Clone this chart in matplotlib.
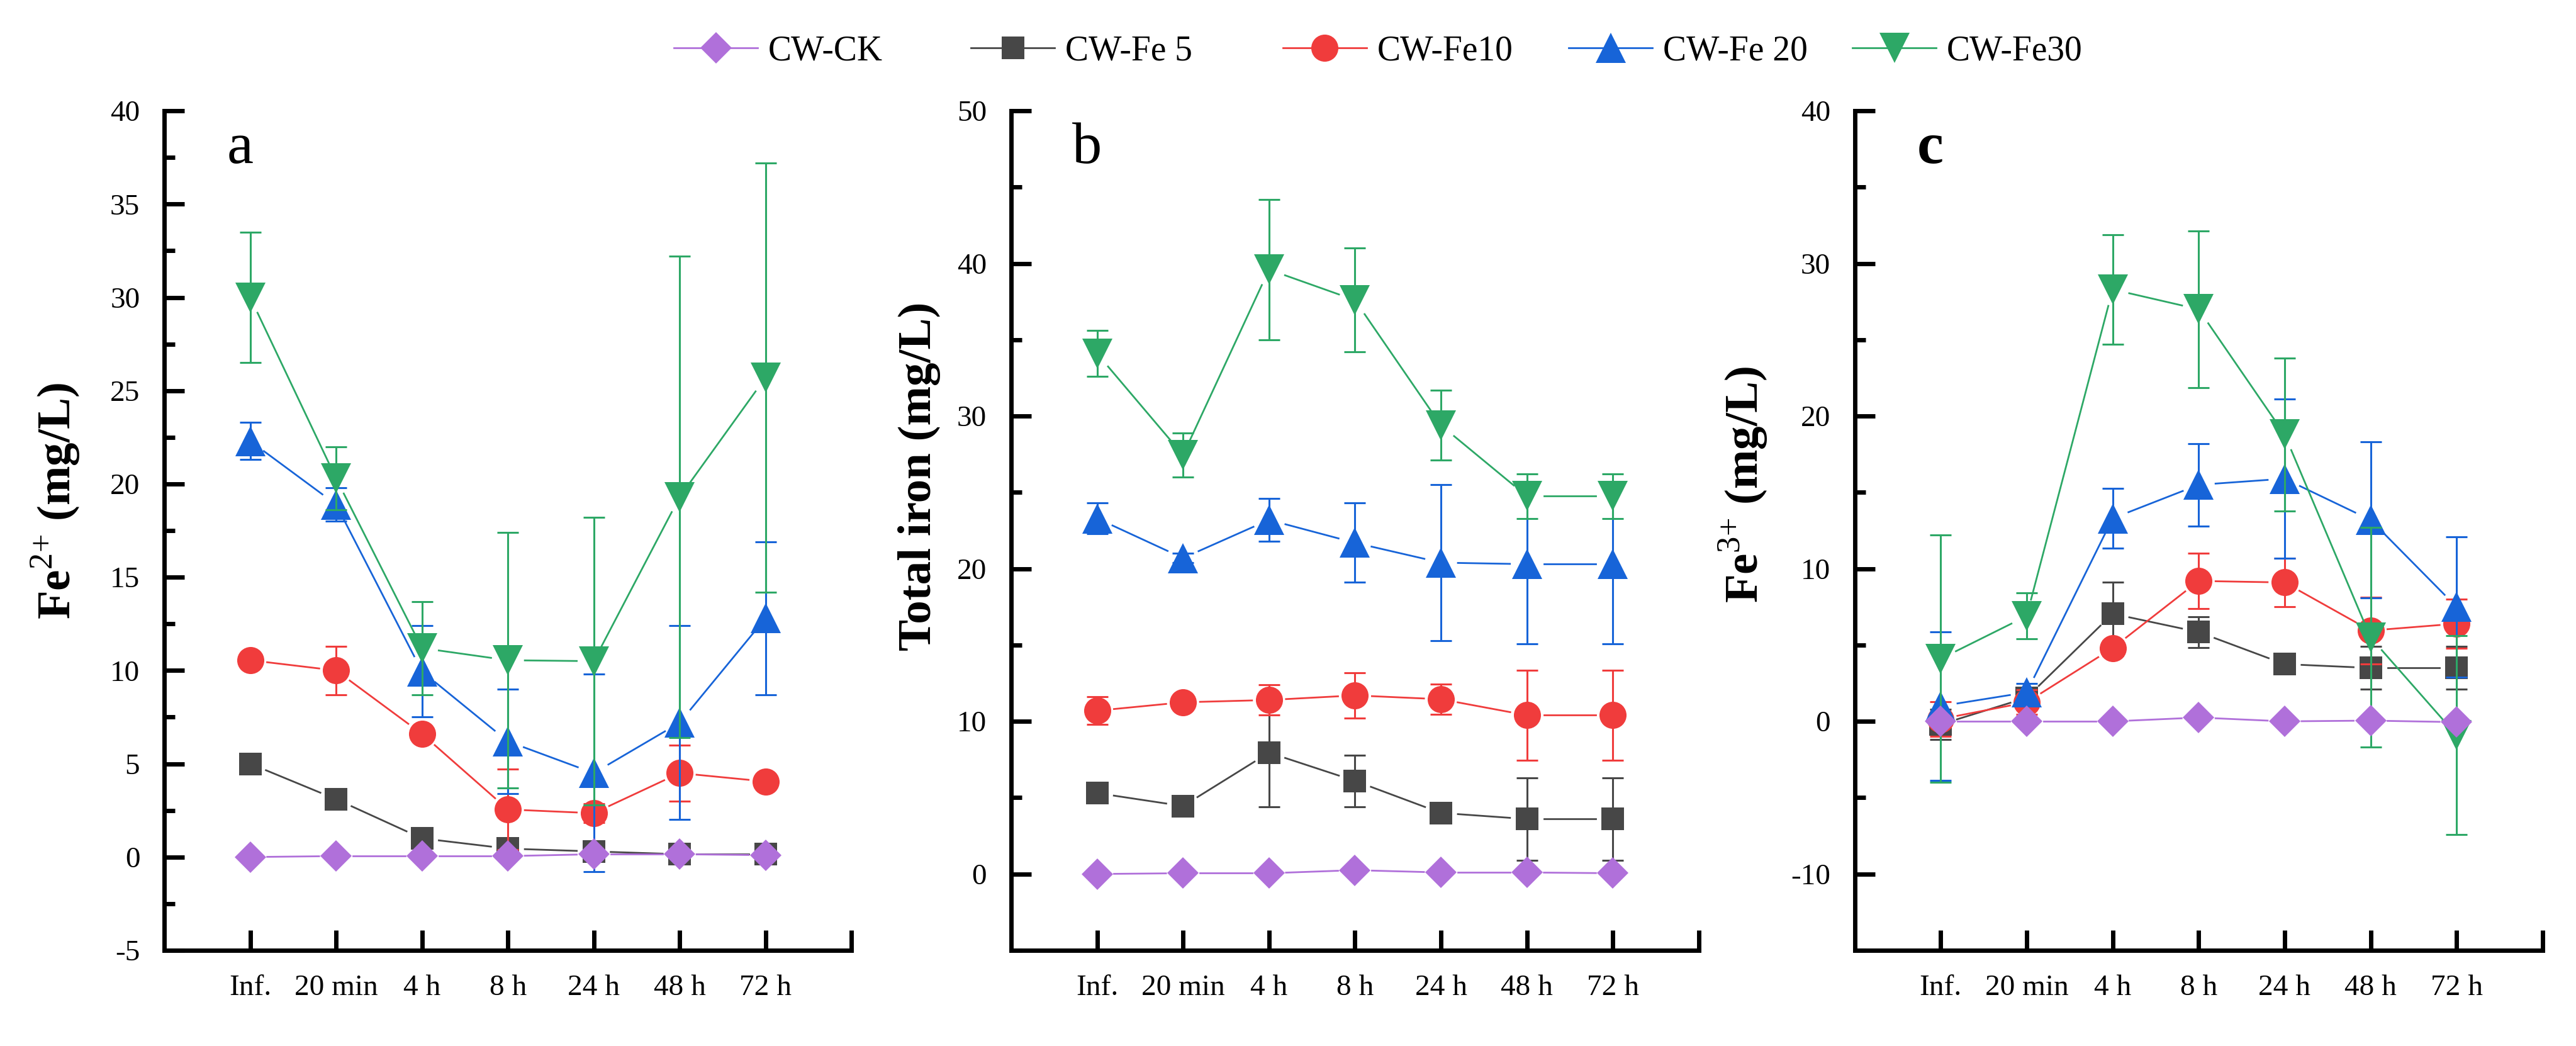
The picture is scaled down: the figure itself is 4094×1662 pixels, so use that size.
import numpy as np
import matplotlib
matplotlib.use('Agg')
import matplotlib.pyplot as plt
from matplotlib.lines import Line2D
from matplotlib.ticker import MultipleLocator

plt.rcParams['font.family'] = ['Liberation Serif', 'DejaVu Serif']
plt.rcParams['mathtext.fontset'] = 'custom'
plt.rcParams['mathtext.rm'] = 'Liberation Serif'
plt.rcParams['mathtext.bf'] = 'Liberation Serif:bold'
plt.rcParams['axes.unicode_minus'] = False
plt.rcParams['lines.markeredgewidth'] = 0

# ===== DATA =====
times = ['Inf.', '20 min', '4 h', '8 h', '24 h', '48 h', '72 h']
series = ['CW-CK', 'CW-Fe 5', 'CW-Fe10', 'CW-Fe 20', 'CW-Fe30']

# a: Fe2+ (mg/L)
fe2_ck = [0.0, 0.05, 0.05, 0.05, 0.15, 0.15, 0.1]
fe2_ck_err = [0.1, 0.1, 0.1, 0.1, 0.1, 0.1, 0.1]
fe2_fe5 = [5.0, 3.1, 1.0, 0.45, 0.3, 0.15, 0.15]
fe2_fe5_err = [0.2, 0.2, 0.3, 0.2, 0.2, 0.1, 0.1]
fe2_fe10 = [10.55, 10.0, 6.6, 2.55, 2.35, 4.5, 4.05]
fe2_fe10_err = [0.3, 1.3, 0.3, 2.15, 0.5, 1.5, 0.2]
fe2_fe20 = [22.3, 18.9, 9.95, 6.2, 4.5, 7.2, 12.8]
fe2_fe20_err = [1.0, 0.9, 2.45, 2.8, 5.3, 5.2, 4.1]
fe2_fe30 = [30.0, 20.3, 11.2, 10.55, 10.5, 19.3, 25.7]
fe2_fe30_err = [3.5, 1.7, 2.5, 6.85, 7.7, 12.9, 11.5]

# b: total iron (mg/L)
tot_ck = [0.0, 0.05, 0.05, 0.25, 0.1, 0.1, 0.05]
tot_ck_err = [0.1, 0.1, 0.1, 0.1, 0.1, 0.1, 0.1]
tot_fe5 = [5.3, 4.45, 7.95, 6.1, 4.0, 3.6, 3.6]
tot_fe5_err = [0.6, 0.4, 3.55, 1.7, 0.3, 2.7, 2.7]
tot_fe10 = [10.7, 11.25, 11.4, 11.7, 11.45, 10.4, 10.4]
tot_fe10_err = [0.9, 0.3, 1.0, 1.5, 1.0, 2.95, 2.95]
tot_fe20 = [23.3, 20.7, 23.2, 21.7, 20.4, 20.3, 20.3]
tot_fe20_err = [1.0, 0.3, 1.4, 2.6, 5.1, 5.2, 5.2]
tot_fe30 = [34.1, 27.45, 39.6, 37.6, 29.4, 24.75, 24.75]
tot_fe30_err = [1.5, 1.45, 4.6, 3.4, 2.3, 1.45, 1.45]

# c: Fe3+ (mg/L)
fe3_ck = [0.0, 0.0, 0.0, 0.25, 0.0, 0.05, -0.05]
fe3_ck_err = [0.1, 0.1, 0.1, 0.1, 0.1, 0.1, 0.1]
fe3_fe5 = [-0.2, 1.55, 7.05, 5.85, 3.75, 3.5, 3.5]
fe3_fe5_err = [1.0, 0.4, 2.05, 1.0, 0.2, 1.4, 1.4]
fe3_fe10 = [0.15, 1.25, 4.8, 9.2, 9.1, 5.95, 6.4]
fe3_fe10_err = [1.15, 0.8, 0.5, 1.8, 1.6, 2.2, 1.6]
fe3_fe20 = [1.0, 1.9, 13.3, 15.5, 15.9, 13.2, 7.5]
fe3_fe20_err = [4.85, 0.6, 1.95, 2.7, 5.2, 5.1, 4.6]
fe3_fe30 = [4.1, 6.9, 28.3, 27.0, 18.8, 5.5, -0.9]
fe3_fe30_err = [8.1, 1.5, 3.6, 5.15, 5.0, 7.2, 6.5]

colors = ['#B070DA', '#474747', '#F03C3C', '#1764D8', '#2DA866']
markers = ['D', 's', 'o', '^', 'v']
msizes = [12.5, 13, 15.5, 17, 17]
zorders = [7, 3, 4, 5, 6]
# left edge of each legend entry (figure fraction)
legend_x = [0.2616, 0.3769, 0.4980, 0.6089, 0.7191]
GAP_PX = 27  # Origin-style gap between connecting line and marker centre


def gapped_line(ax, x, y, color, zorder):
    """Connect points with segments that stop short of the markers"""
    pts = ax.transData.transform(np.column_stack([x, y]))
    inv = ax.transData.inverted()
    for p0, p1 in zip(pts[:-1], pts[1:]):
        d = p1 - p0
        dist = np.hypot(*d)
        if dist <= 2 * GAP_PX:
            continue
        u = d / dist
        seg = inv.transform(np.array([p0 + u * GAP_PX, p1 - u * GAP_PX]))
        ax.plot(seg[:, 0], seg[:, 1], color=color, linewidth=1.0, zorder=zorder)


def draw_panel(ax, values, errors, letter, ylabel, ylim, major, label_x, label_y, bold_letter=False):
    """Draw one panel of the time series with error bars"""
    x = np.arange(1, len(times) + 1)
    ax.set_xlim(0, 8)
    ax.set_ylim(*ylim)
    for i in range(len(series)):
        ax.errorbar(x, values[i], yerr=errors[i], color=colors[i], marker=markers[i],
                    markersize=msizes[i], linestyle='none',
                    elinewidth=1.1, capsize=6, capthick=1.1, zorder=zorders[i])
        gapped_line(ax, x, values[i], colors[i], zorders[i])

    ax.set_xticks(np.arange(1, 9))
    ax.set_xticklabels(times + [''])
    ax.yaxis.set_major_locator(MultipleLocator(major))
    ax.yaxis.set_minor_locator(MultipleLocator(major / 2))

    for side in ['top', 'right']:
        ax.spines[side].set_visible(False)
    for side in ['left', 'bottom']:
        ax.spines[side].set_linewidth(2.5)
    ax.tick_params(which='major', direction='in', length=11.5, width=2.5, labelsize=17, pad=14)
    ax.tick_params(which='minor', direction='in', length=6, width=2.5)
    ax.tick_params(axis='x', which='minor', length=0)

    ax.set_ylabel(ylabel, fontsize=27, fontweight='bold')
    ax.yaxis.set_label_coords(label_x, label_y)
    ax.text(0.11, 0.955, letter, transform=ax.transAxes, fontsize=34,
            fontweight='bold' if bold_letter else 'normal', ha='center', va='center')


def main():
    fig = plt.figure(figsize=(20.47, 8.31), dpi=200)
    bottom, height = 0.0915, 0.8025
    ax_a = fig.add_axes([0.0638, bottom, 0.2667, height])
    ax_b = fig.add_axes([0.3925, bottom, 0.2670, height])
    ax_c = fig.add_axes([0.7200, bottom, 0.2670, height])

    draw_panel(ax_a, [fe2_ck, fe2_fe5, fe2_fe10, fe2_fe20, fe2_fe30],
               [fe2_ck_err, fe2_fe5_err, fe2_fe10_err, fe2_fe20_err, fe2_fe30_err],
               'a', r'Fe$^{2{+}}$ (mg/L)', (-5, 40), 5, -0.12, 0.535)
    draw_panel(ax_b, [tot_ck, tot_fe5, tot_fe10, tot_fe20, tot_fe30],
               [tot_ck_err, tot_fe5_err, tot_fe10_err, tot_fe20_err, tot_fe30_err],
               'b', 'Total iron (mg/L)', (-5, 50), 10, -0.102, 0.565)
    draw_panel(ax_c, [fe3_ck, fe3_fe5, fe3_fe10, fe3_fe20, fe3_fe30],
               [fe3_ck_err, fe3_fe5_err, fe3_fe10_err, fe3_fe20_err, fe3_fe30_err],
               'c', r'Fe$^{3{+}}$ (mg/L)', (-15, 40), 10, -0.124, 0.555, bold_letter=True)

    # one legend per entry so the spacing follows the original
    for i, lx in enumerate(legend_x):
        handle = Line2D([], [], color=colors[i], marker=markers[i], markersize=msizes[i],
                        linewidth=1.0)
        fig.legend([handle], [series[i]], loc='center left', bbox_to_anchor=(lx, 0.951),
                   frameon=False, fontsize=20, handlelength=2.4, handletextpad=0.3,
                   borderpad=0, borderaxespad=0, numpoints=1)

    fig.savefig('out.png', dpi=200)


if __name__ == '__main__':
    main()
